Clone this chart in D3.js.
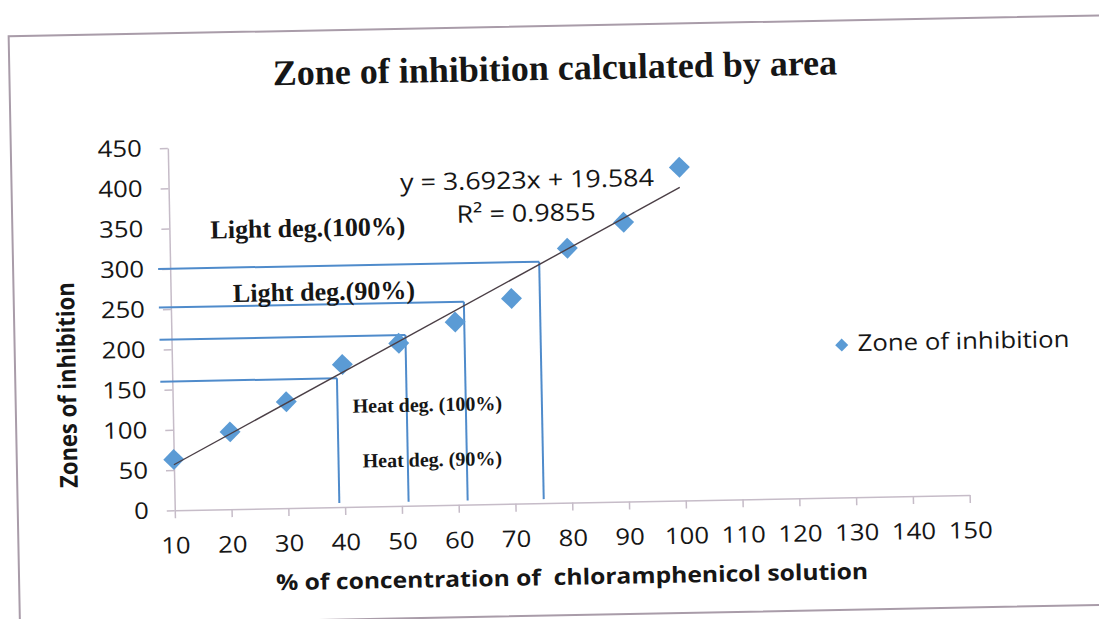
<!DOCTYPE html>
<html>
<head>
<meta charset="utf-8">
<script src="https://cdn.jsdelivr.net/npm/d3@7"></script>
<style>
  html, body { margin: 0; padding: 0; background: #ffffff; }
  svg { display: block; }
</style>
</head>
<body>
<svg id="chart" width="1099" height="619"></svg>
<script>
// ---- data ----
const concentrationTicks = [10, 20, 30, 40, 50, 60, 70, 80, 90, 100, 110, 120, 130, 140, 150];
const sampleConcentrations = [10, 20, 30, 40, 50, 60, 70, 80, 90, 100];
const zoneValues = [63, 96, 132, 177, 202, 227, 255, 316, 347, 414];
const zoneTicks = [0, 50, 100, 150, 200, 250, 300, 350, 400, 450];

// linear trend fitted to the zone values
const trendSlope = 3.6923;
const trendIntercept = 19.584;
const trendR2 = 0.9855;

// read-off guides: zone level -> concentration
const guideZones = [300, 252, 212, 160];
const guideConcentrations = [75, 61.6, 51.2, 39];
const guideLabels = ["Light deg.(100%)", "Light deg.(90%)", "Heat deg. (100%)", "Heat deg. (90%)"];

// ---- styling ----
const SANS = "'Open Sans', 'Noto Sans', sans-serif";
const SERIF = "'Liberation Serif', 'Times New Roman', serif";
const SX = 1.12;                 // horizontal stretch of the sans-serif text
const MARKER = "#5b9bd5";
const GUIDE = "#4f8bcb";
const AXIS = "#c6bcc8";
const INK = "#161616";

const svg = d3.select("#chart");
svg.append("rect").attr("width", 1099).attr("height", 619).attr("fill", "#ffffff");

// whole sheet is slightly tilted
const root = svg.append("g").attr("transform", "rotate(-1.1, 550, 310)");

// chart frame
root.append("rect")
  .attr("x", 14).attr("y", 26).attr("width", 1150).attr("height", 589.5)
  .attr("fill", "none").attr("stroke", "#a99ca9").attr("stroke-width", 2);

const x = d3.scaleLinear().domain([10, 150]).range([171, 966]);
const y = d3.scaleLinear().domain([0, 450]).range([503, 140.7]);

function label(parent, px, py, str, size, family, weight, anchor, sx) {
  const g = parent.append("g").attr("transform", `translate(${px},${py})`);
  return g.append("text")
    .attr("transform", `scale(${sx || 1},1)`)
    .attr("text-anchor", anchor || "middle")
    .attr("font-family", family)
    .attr("font-size", size)
    .attr("font-weight", weight || "normal")
    .attr("fill", INK)
    .text(str);
}

// ---- axes ----
const xAxis = d3.axisBottom(x).tickValues(concentrationTicks)
  .tickSize(8).tickSizeOuter(0).tickPadding(19).tickFormat(d3.format("d"));
const yAxis = d3.axisLeft(y).tickValues(zoneTicks)
  .tickSize(8).tickSizeOuter(0).tickPadding(18).tickFormat(d3.format("d"));

const gx = root.append("g").attr("transform", `translate(0,${y(0)})`).call(xAxis);
const gy = root.append("g").attr("transform", `translate(${x(10)},0)`).call(yAxis);

[gx, gy].forEach(g => {
  g.select(".domain").attr("stroke", AXIS).attr("stroke-width", 1.5);
  g.selectAll(".tick line").attr("stroke", AXIS).attr("stroke-width", 1.5);
  g.selectAll(".tick text")
    .attr("font-family", SANS).attr("font-size", 23).attr("fill", INK)
    .each(function () {
      const t = d3.select(this);
      const tx = +t.attr("x") || 0;
      t.attr("x", tx / SX).attr("transform", `scale(${SX},1)`);
    });
});

// ---- read-off guides ----
const guides = root.append("g").attr("stroke", GUIDE).attr("stroke-width", 2).attr("fill", "none");
guideZones.forEach((z, i) => {
  const cx = x(guideConcentrations[i]);
  guides.append("line")
    .attr("x1", x(10) - 12).attr("x2", cx)
    .attr("y1", y(z)).attr("y2", y(z));
  guides.append("line")
    .attr("x1", cx).attr("x2", cx)
    .attr("y1", y(z)).attr("y2", y(5));
});

// ---- markers ----
const diamond = d3.symbol().type(d3.symbolSquare).size(220);
root.append("g").selectAll("path")
  .data(sampleConcentrations.map((c, i) => [c, zoneValues[i]]))
  .join("path")
  .attr("d", diamond)
  .attr("transform", d => `translate(${x(d[0])},${y(d[1])}) rotate(45)`)
  .attr("fill", MARKER);

// ---- trendline ----
const trendX = d3.extent(sampleConcentrations);
root.append("line")
  .attr("x1", x(trendX[0])).attr("y1", y(trendSlope * trendX[0] + trendIntercept))
  .attr("x2", x(trendX[1])).attr("y2", y(trendSlope * trendX[1] + trendIntercept))
  .attr("stroke", "#4b3f46").attr("stroke-width", 1.4);

// ---- equation ----
label(root, 529.5, 188, `y = ${trendSlope}x + ${trendIntercept}`, 24, SANS, "normal", "middle", SX);
label(root, 528, 221, `R\u00B2 = ${trendR2}`, 24, SANS, "normal", "middle", SX);

// ---- guide labels ----
label(root, 309.5, 232, guideLabels[0], 26, SERIF, "bold");
label(root, 324.3, 296, guideLabels[1], 26, SERIF, "bold");
label(root, 425.5, 409, guideLabels[2], 20, SERIF, "bold");
label(root, 429.5, 464, guideLabels[3], 20, SERIF, "bold");

// ---- title ----
label(root, 559.6, 80, "Zone of inhibition calculated by area", 36, SERIF, "bold");

// ---- axis titles ----
label(root, 567, 585, "% of concentration of  chloramphenicol solution", 22, SANS, "bold", "middle", SX)
  .attr("xml:space", "preserve").style("white-space", "pre");

const yTitle = root.append("g").attr("transform", `translate(74.5,375.8) scale(${SX},1) rotate(-90)`);
yTitle.append("text")
  .attr("text-anchor", "middle")
  .attr("font-family", SANS).attr("font-size", 22).attr("font-weight", "bold")
  .attr("fill", INK)
  .text("Zones of inhibition");

// ---- legend ----
const legend = root.append("g");
legend.append("path")
  .attr("d", d3.symbol().type(d3.symbolSquare).size(85))
  .attr("transform", "translate(841,350.6) rotate(45)")
  .attr("fill", MARKER);
label(legend, 857, 357, "Zone of inhibition", 23, SANS, "normal", "start", SX);
</script>
</body>
</html>
